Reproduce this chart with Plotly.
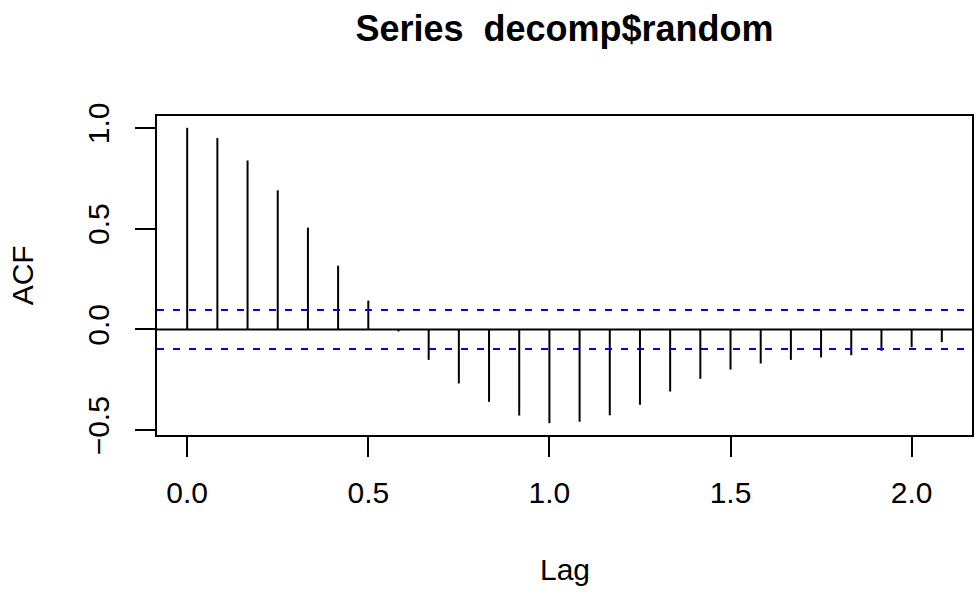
import plotly.graph_objects as go

# ---- data ----
lags = [0/12, 1/12, 2/12, 3/12, 4/12, 5/12, 6/12, 7/12, 8/12, 9/12, 10/12, 11/12, 12/12,
        13/12, 14/12, 15/12, 16/12, 17/12, 18/12, 19/12, 20/12, 21/12, 22/12, 23/12, 24/12, 25/12]
acf_vals = [1.0, 0.949, 0.838, 0.690, 0.505, 0.316, 0.143, -0.010, -0.151, -0.268, -0.359,
            -0.427, -0.465, -0.458, -0.426, -0.374, -0.308, -0.245, -0.199, -0.169, -0.151,
            -0.139, -0.128, -0.106, -0.088, -0.063]
conf_limit = 0.097
x_ticks = [0.0, 0.5, 1.0, 1.5, 2.0]
x_ticklabels = ["0.0", "0.5", "1.0", "1.5", "2.0"]
y_ticks = [-0.5, 0.0, 0.5, 1.0]
y_ticklabels = ["\u22120.5", "0.0", "0.5", "1.0"]
title_text = "Series\u00a0 decomp$random"
x_title = "Lag"
y_title = "ACF"

FONT = "Liberation Sans, Arial, Helvetica, sans-serif"

# build spike segments
xs, ys = [], []
for lg, v in zip(lags, acf_vals):
    xs += [lg, lg, None]
    ys += [0, v, None]

fig = go.Figure()
fig.add_trace(go.Scatter(x=xs, y=ys, mode="lines",
                         line=dict(color="black", width=2), hoverinfo="skip",
                         showlegend=False))

xr = (min(lags), max(lags))
xpad = (xr[1] - xr[0]) * 0.04
ymin = min(acf_vals)
ypad = (1 - ymin) * 0.04

for c in (conf_limit, -conf_limit):
    fig.add_shape(type="line", xref="paper", x0=0, x1=1, yref="y", y0=c, y1=c,
                  line=dict(color="#0000FF", width=2, dash="7px,9px"))
fig.add_shape(type="line", xref="paper", x0=0, x1=1, yref="y", y0=0, y1=0,
              line=dict(color="black", width=2))

fig.update_layout(
    width=976, height=592,
    margin=dict(l=157, r=2, t=116, b=157),
    paper_bgcolor="white", plot_bgcolor="white",
    font=dict(family=FONT, size=30, color="black"),
    title=dict(text="<b>" + title_text + "</b>", x=0.5, xref="paper",
               y=1 - 28 / 592, yref="container", yanchor="middle",
               font=dict(family=FONT, size=36, color="black")),
    xaxis=dict(range=[xr[0] - xpad, xr[1] + xpad], tickvals=x_ticks, ticktext=x_ticklabels,
               showgrid=False, zeroline=False, showline=True, mirror=True,
               linecolor="black", linewidth=2, ticks="outside", ticklen=20,
               tickwidth=2, tickcolor="black", tickfont=dict(size=30),
               ticklabelstandoff=10),
    yaxis=dict(range=[ymin - ypad, 1 + ypad], tickvals=y_ticks, ticktext=y_ticklabels,
               showgrid=False, zeroline=False, showline=True, mirror=True,
               linecolor="black", linewidth=2, ticks="outside", ticklen=20,
               tickwidth=2, tickcolor="black", tickfont=dict(size=30), tickangle=-90,
               ticklabelstandoff=14),
    annotations=[
        dict(text=x_title, xref="paper", x=0.5, yref="paper", y=-(569 - 435) / 319,
             showarrow=False, xanchor="center", yanchor="middle", font=dict(size=30)),
        dict(text=y_title, xref="paper", x=-(157 - 22.5) / 817, yref="paper", y=0.5,
             showarrow=False, xanchor="center", yanchor="middle", textangle=-90,
             font=dict(size=30)),
    ],
)

fig.write_html("out.html")
